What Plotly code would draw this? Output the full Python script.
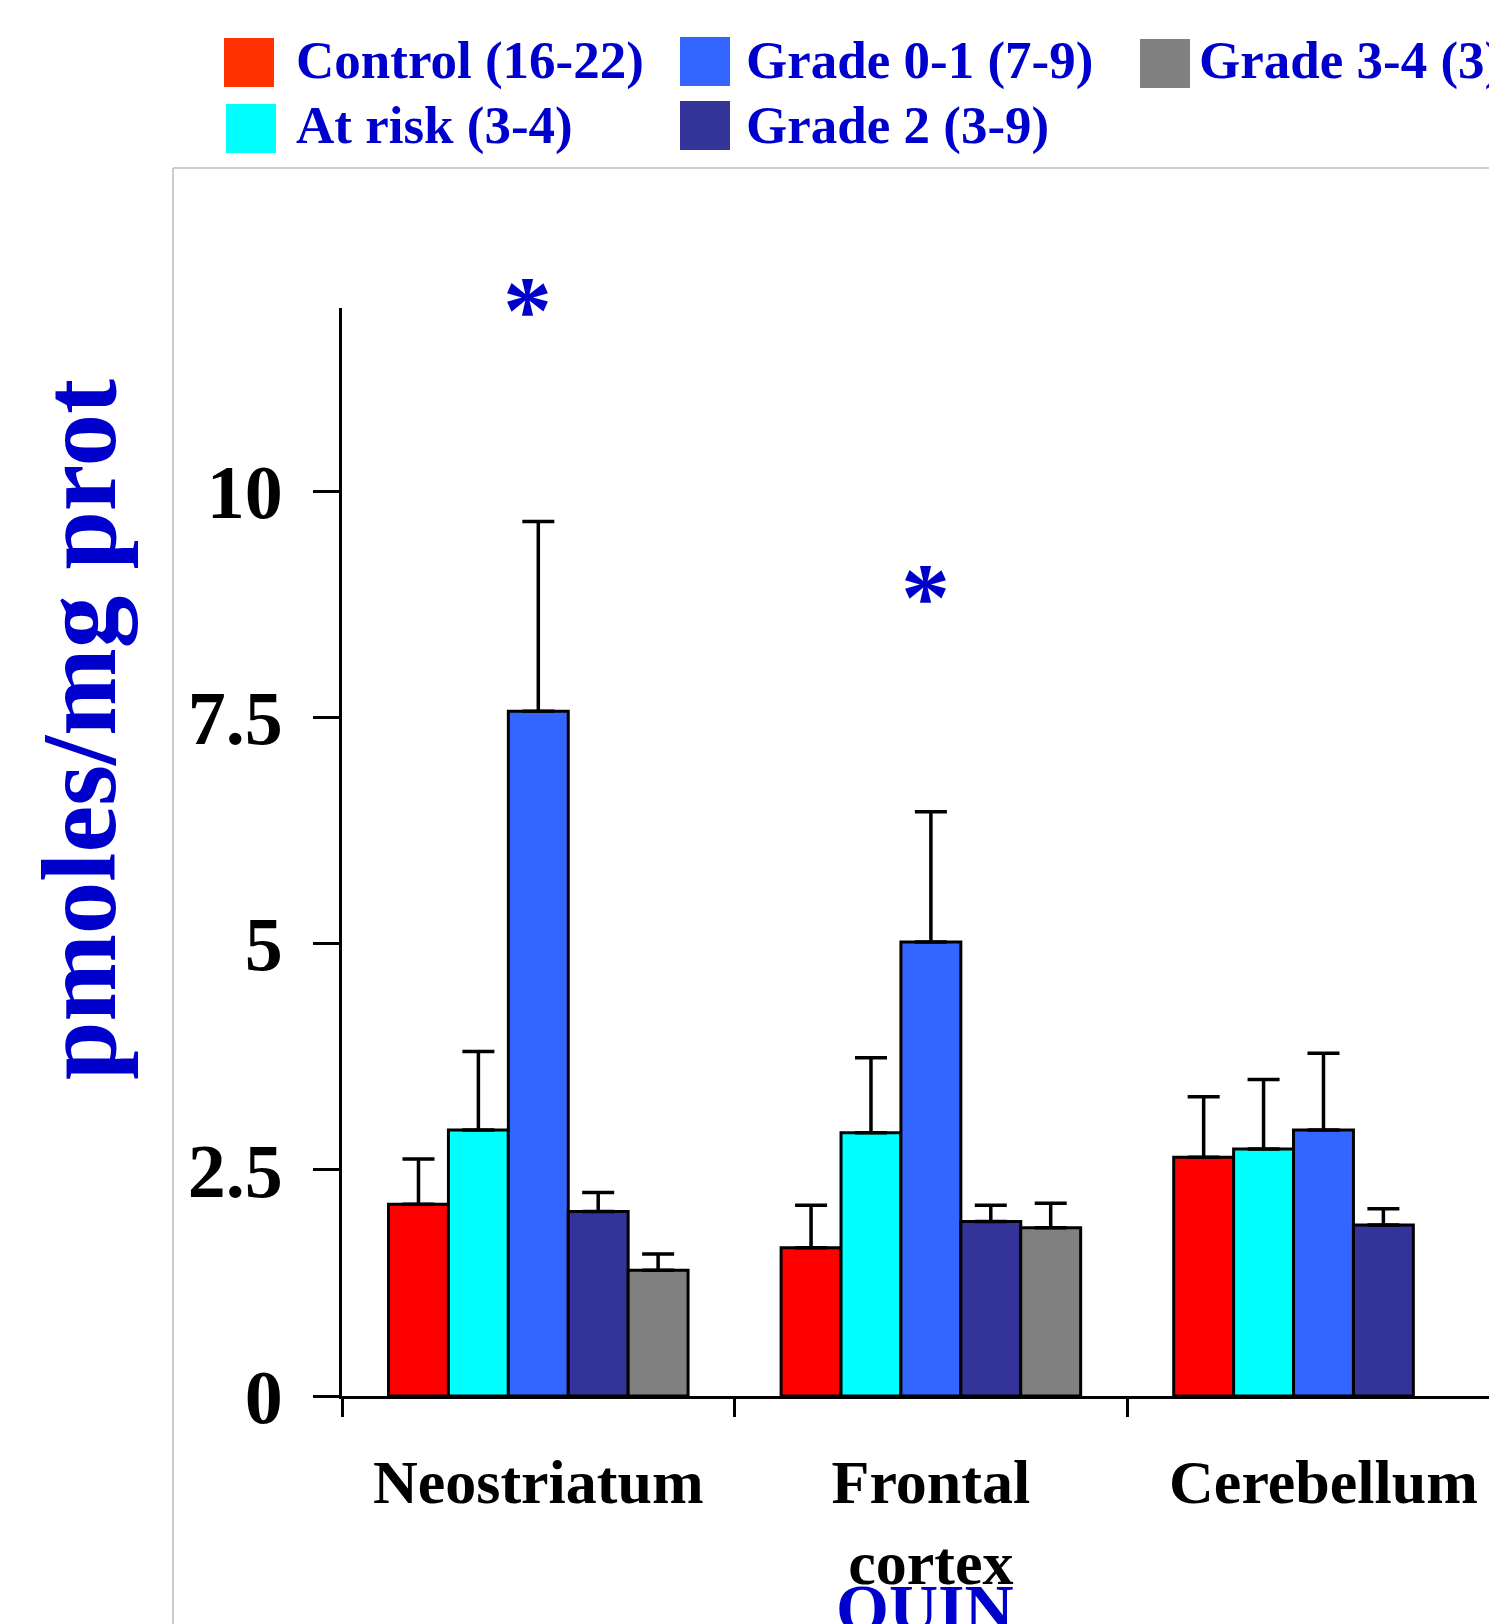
import plotly.graph_objects as go

# ---------------- data ----------------
categories = ["Neostriatum", "Frontal<br>cortex", "Cerebellum"]
series_names = ["Control (16-22)", "At risk (3-4)", "Grade 0-1 (7-9)", "Grade 2 (3-9)", "Grade 3-4 (3)"]
control = [2.12, 1.64, 2.64]
control_err = [0.50, 0.47, 0.67]
at_risk = [2.94, 2.91, 2.73]
at_risk_err = [0.87, 0.83, 0.77]
grade01 = [7.57, 5.02, 2.94]
grade01_err = [2.10, 1.44, 0.85]
grade2 = [2.04, 1.93, 1.89]
grade2_err = [0.21, 0.18, 0.18]
grade34 = [1.39, 1.86, None]
grade34_err = [0.18, 0.27, 0]
y_ticks = [0, 2.5, 5, 7.5, 10]
y_tick_labels = ["0", "2.5", "5", "7.5", "10"]
star_categories = [0, 1]
star_y = [12.12, 8.95]
Y_MAX = 12.03

# ---------------- style ----------------
bar_colors = ["#FF0000", "#00FFFF", "#3366FF", "#333399", "#808080"]
legend_colors = ["#FF3300", "#00FFFF", "#3366FF", "#333399", "#808080"]
BLUE = "#0000CC"
FONT = "Liberation Serif"

OFF = 8  # default body margin of the html page
PAGE_W, PAGE_H = 1497, 1624
W, H = PAGE_W - OFF, PAGE_H - OFF
# plot area in page pixel coordinates
L, R, T, B = 342, 1497, 308, 1396


def px(x):
    return (x - L) / (R - L)


def py(y):
    return (B - y) / (B - T)


fig = go.Figure()
values = [control, at_risk, grade01, grade2, grade34]
errors = [control_err, at_risk_err, grade01_err, grade2_err, grade34_err]
for name, v, e, c in zip(series_names, values, errors, bar_colors):
    fig.add_trace(go.Bar(
        x=categories, y=v, name=name,
        marker=dict(color=c, line=dict(color="black", width=3)),
        error_y=dict(type="data", symmetric=False, array=e,
                     arrayminus=[0] * len(e), color="black",
                     thickness=3.5, width=16),
        showlegend=False,
    ))

annotations = []
shapes = []

# manual legend (column-major, as in reference)
legend_items = [
    (0, 224, 38, 294, 61),
    (1, 226, 104, 294, 125),
    (2, 680, 37, 744, 61),
    (3, 680, 101, 744, 125),
    (4, 1140, 39, 1197, 61),
]
for idx, sx, sy, tx, ty in legend_items:
    shapes.append(dict(type="rect", xref="paper", yref="paper",
                       x0=px(sx), x1=px(sx + 50), y0=py(sy), y1=py(sy + 49),
                       fillcolor=legend_colors[idx], line=dict(width=0)))
    annotations.append(dict(xref="paper", yref="paper", x=px(tx), y=py(ty),
                            xanchor="left", yanchor="middle", showarrow=False,
                            text=series_names[idx],
                            font=dict(family=FONT, size=53, color=BLUE, weight="bold")))

# frame lines (light grey box edge)
shapes.append(dict(type="line", xref="paper", yref="paper",
                   x0=px(173), x1=px(PAGE_W), y0=py(168), y1=py(168),
                   line=dict(color="#CCCCCC", width=2)))
shapes.append(dict(type="line", xref="paper", yref="paper",
                   x0=px(173), x1=px(173), y0=py(168), y1=py(PAGE_H),
                   line=dict(color="#CCCCCC", width=2)))

# y-axis title
annotations.append(dict(xref="paper", yref="paper", x=px(79), y=py(730),
                        xanchor="center", yanchor="middle", showarrow=False,
                        textangle=-90, text="pmoles/mg prot",
                        font=dict(family=FONT, size=105, color=BLUE, weight="bold")))

# QUIN label
annotations.append(dict(xref="paper", yref="paper", x=px(925), y=py(1568),
                        xanchor="center", yanchor="top", showarrow=False,
                        text="QUIN",
                        font=dict(family=FONT, size=68, color=BLUE, weight="bold")))

# significance asterisks (y given in data units, mapped onto the y axis)
for cx, sy, xs in zip(star_categories, star_y, [-11, -5]):
    annotations.append(dict(x=cx, y=sy / Y_MAX, xref="x", yref="paper",
                            xshift=xs, yshift=-10,
                            xanchor="center", yanchor="middle", showarrow=False,
                            text="*",
                            font=dict(family=FONT, size=98, color=BLUE, weight="bold")))

fig.update_layout(
    width=W, height=H,
    margin=dict(l=L - OFF, r=PAGE_W - R, t=T - OFF, b=PAGE_H - B, pad=0),
    template="none",
    plot_bgcolor="white", paper_bgcolor="white",
    barmode="group", bargap=0.237, bargroupgap=0,
    showlegend=False,
    annotations=annotations, shapes=shapes,
    xaxis=dict(range=[-0.5, 2.442], showline=True, linecolor="black", linewidth=3,
               ticks="outside", tickson="boundaries", ticklen=18, tickwidth=3,
               tickcolor="black", showgrid=False, zeroline=False, automargin=False,
               tickfont=dict(family=FONT, size=62, color="black", weight="bold"),
               ticklabelstandoff=30),
    yaxis=dict(range=[0, Y_MAX], showline=True, linecolor="black", linewidth=3,
               ticks="outside", ticklen=26, tickwidth=3, tickcolor="black",
               tickvals=y_ticks, ticktext=y_tick_labels,
               showgrid=False, zeroline=False, automargin=False,
               tickfont=dict(family=FONT, size=76, color="black", weight="bold"),
               ticklabelstandoff=15),
)

fig.write_html("out.html")
